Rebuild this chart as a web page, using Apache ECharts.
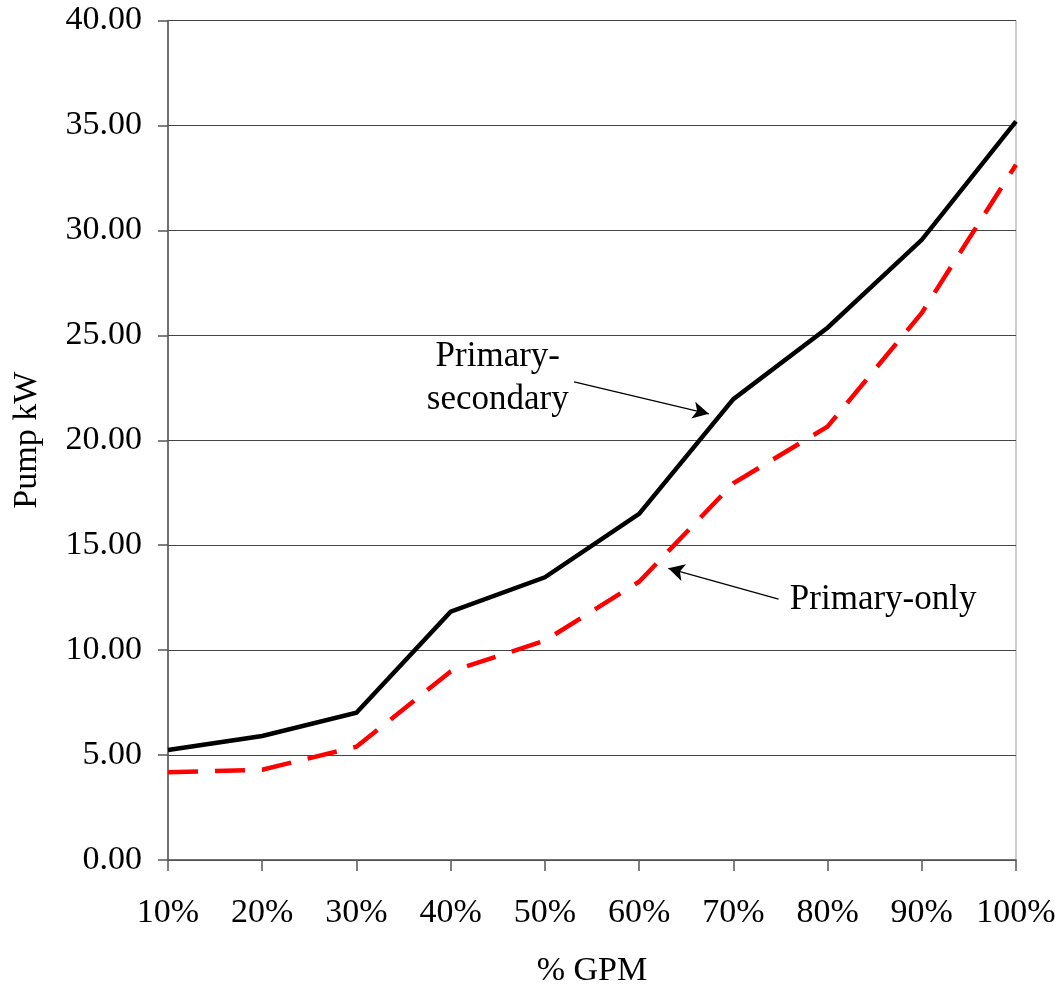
<!DOCTYPE html>
<html>
<head>
<meta charset="utf-8">
<script src="https://cdn.jsdelivr.net/npm/echarts@6/dist/echarts.min.js"></script>
<style>
  html, body { margin: 0; padding: 0; background: #fff; }
  #chart { width: 1061px; height: 986px; }
</style>
</head>
<body>
<div id="chart"></div>
<script>
// Pump power vs. flow for two chilled-water pumping schemes
const flowPct = [10, 20, 30, 40, 50, 60, 70, 80, 90, 100];
const primarySecondaryKW = [5.24, 5.91, 7.02, 11.83, 13.47, 16.49, 21.96, 25.36, 29.55, 35.19];
const primaryOnlyKW = [4.18, 4.30, 5.40, 8.98, 10.45, 13.26, 17.95, 20.65, 26.07, 33.13];
const yTicks = [0, 5, 10, 15, 20, 25, 30, 35, 40];

const FONT = '"Liberation Serif", "Times New Roman", serif';
const FS = 34;

const chart = echarts.init(document.getElementById('chart'));

const pairs = (xs, ys) => xs.map((x, i) => [x, ys[i]]);

chart.setOption({
  animation: false,
  backgroundColor: '#fff',
  grid: {
    left: 168, right: 45, top: 20.5, bottom: 126,
    outerBoundsMode: 'none',
    containLabel: false,
    show: true, borderColor: '#999', borderWidth: 1
  },
  xAxis: {
    type: 'value',
    min: 10, max: 100, interval: 10,
    name: '% GPM',
    nameLocation: 'middle',
    nameGap: 94,
    nameTextStyle: { fontFamily: FONT, fontSize: FS, color: '#000' },
    axisLine: { onZero: false, lineStyle: { color: '#555', width: 1.5 } },
    axisTick: { show: true, length: 11, lineStyle: { color: '#555', width: 1.5 } },
    axisLabel: {
      fontFamily: FONT, fontSize: FS, color: '#000', margin: 36,
      formatter: v => v + '%'
    },
    splitLine: { show: false }
  },
  yAxis: {
    type: 'value',
    min: yTicks[0], max: yTicks[yTicks.length - 1], interval: 5,
    name: 'Pump kW',
    nameLocation: 'middle',
    nameGap: 124,
    nameRotate: 90,
    nameTextStyle: { fontFamily: FONT, fontSize: FS, color: '#000' },
    axisLine: { show: true, lineStyle: { color: '#555', width: 1.5 } },
    axisTick: { show: true, length: 10, lineStyle: { color: '#555', width: 1.5 } },
    axisLabel: {
      fontFamily: FONT, fontSize: FS, color: '#000', margin: 26,
      formatter: v => v.toFixed(2)
    },
    splitLine: { show: true, lineStyle: { color: '#444', width: 1 } }
  },
  series: [
    {
      name: 'Primary-secondary',
      type: 'line',
      data: pairs(flowPct, primarySecondaryKW),
      symbol: 'none',
      lineStyle: { color: '#000', width: 4.5, cap: 'butt', join: 'miter' },
      z: 3
    },
    {
      name: 'Primary-only',
      type: 'line',
      data: pairs(flowPct, primaryOnlyKW),
      symbol: 'none',
      lineStyle: { color: '#ff0000', width: 4.5, type: [30, 17], cap: 'butt', join: 'miter' },
      z: 2
    },
    {
      // callout labels and their pointer arrows
      type: 'scatter',
      symbolSize: 0,
      silent: true,
      itemStyle: { opacity: 1 },
      data: [
        { value: [45.0, 22.97], label: { formatter: 'Primary-\nsecondary' } },
        { value: [85.9, 12.39], label: { formatter: 'Primary-only' } }
      ],
      label: {
        show: true, position: 'inside',
        fontFamily: FONT, fontSize: 35, color: '#000',
        lineHeight: 43, align: 'center', verticalAlign: 'middle'
      },
      markLine: {
        silent: true,
        symbol: ['none', 'arrow'],
        symbolSize: [13, 16],
        label: { show: false },
        lineStyle: { color: '#000', width: 1.3, type: 'solid', opacity: 1 },
        data: [
          [{ coord: [53.1, 22.78] }, { coord: [67.4, 21.26] }],
          [{ coord: [74.8, 12.43] }, { coord: [63.1, 13.90] }]
        ]
      }
    }
  ]
});
</script>
</body>
</html>
